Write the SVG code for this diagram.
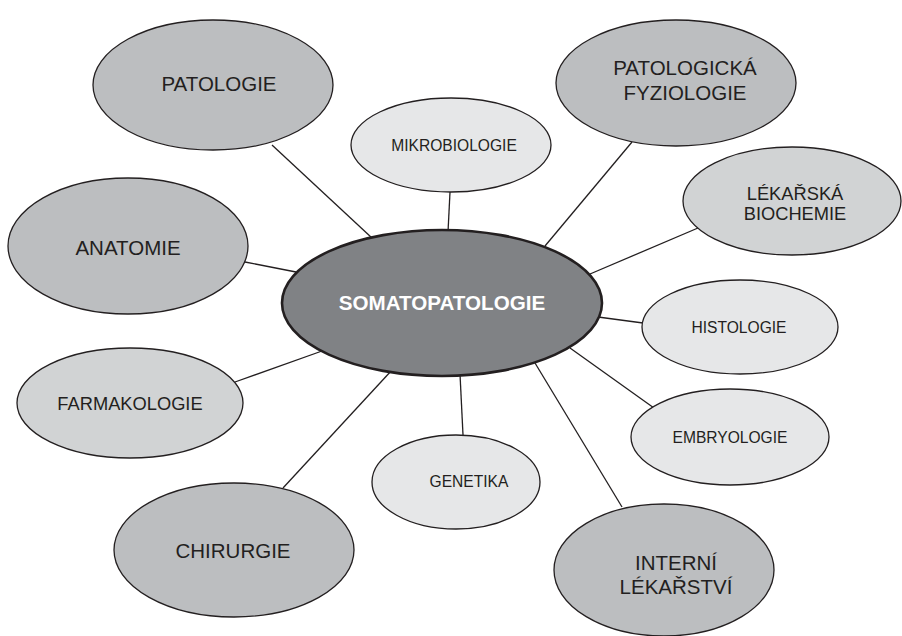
<svg xmlns="http://www.w3.org/2000/svg" width="902" height="636" viewBox="0 0 902 636">
<style>
.bg{fill:#ffffff}
.ln{stroke:#231f20;stroke-width:1.3;fill:none}
.dark{fill:#bcbec0;stroke:#231f20;stroke-width:1.3}
.mid{fill:#d1d3d4;stroke:#231f20;stroke-width:1.3}
.light{fill:#e6e7e8;stroke:#231f20;stroke-width:1.3}
.core{fill:#808285;stroke:#231f20;stroke-width:2.6}
text{font-family:"Liberation Sans",Arial,sans-serif;fill:#231f20;text-anchor:middle}
.big{font-size:20.5px}
.med{font-size:18.3px}
.sm{font-size:15.6px}
.ctr{font-size:20.6px;font-weight:bold;fill:#ffffff}
</style>
<rect class="bg" x="0" y="0" width="902" height="636"/>
<g id="connectors">
<line class="ln" x1="272" y1="145" x2="372" y2="238"/>
<line class="ln" x1="450" y1="192" x2="448" y2="232"/>
<line class="ln" x1="632" y1="142" x2="545" y2="246"/>
<line class="ln" x1="698" y1="228" x2="590" y2="274"/>
<line class="ln" x1="643" y1="323" x2="598" y2="317"/>
<line class="ln" x1="654" y1="408" x2="570" y2="348"/>
<line class="ln" x1="622" y1="507" x2="535" y2="363"/>
<line class="ln" x1="463" y1="435" x2="460" y2="374"/>
<line class="ln" x1="283" y1="488" x2="392" y2="370"/>
<line class="ln" x1="235" y1="382" x2="322" y2="351"/>
<line class="ln" x1="245" y1="262" x2="296" y2="272"/>
</g>
<g id="patologie">
<ellipse class="dark" cx="213" cy="85" rx="120" ry="65"/>
<text class="big" x="219" y="91">PATOLOGIE</text>
</g>
<g id="mikrobiologie">
<ellipse class="light" cx="451" cy="145" rx="100" ry="47"/>
<text class="sm" x="454" y="151">MIKROBIOLOGIE</text>
</g>
<g id="patologicka-fyziologie">
<ellipse class="dark" cx="676" cy="83" rx="120" ry="63"/>
<text class="big" x="685" y="75">PATOLOGICKÁ</text>
<text class="big" x="685" y="100">FYZIOLOGIE</text>
</g>
<g id="lekarska-biochemie">
<ellipse class="mid" cx="792" cy="201" rx="109" ry="54"/>
<text class="med" x="795" y="200">LÉKAŘSKÁ</text>
<text class="med" x="795" y="220">BIOCHEMIE</text>
</g>
<g id="anatomie">
<ellipse class="dark" cx="128" cy="246" rx="120" ry="68"/>
<text class="big" x="128" y="255">ANATOMIE</text>
</g>
<g id="histologie">
<ellipse class="light" cx="740" cy="327" rx="98" ry="47"/>
<text class="sm" x="739" y="333">HISTOLOGIE</text>
</g>
<g id="embryologie">
<ellipse class="light" cx="730" cy="437" rx="99" ry="48"/>
<text class="sm" x="730" y="443">EMBRYOLOGIE</text>
</g>
<g id="farmakologie">
<ellipse class="mid" cx="130" cy="403" rx="113" ry="55"/>
<text class="med" x="130" y="410">FARMAKOLOGIE</text>
</g>
<g id="genetika">
<ellipse class="light" cx="456" cy="482" rx="84" ry="47"/>
<text class="sm" x="469" y="487">GENETIKA</text>
</g>
<g id="chirurgie">
<ellipse class="dark" cx="234" cy="550" rx="120" ry="67"/>
<text class="big" x="233" y="558">CHIRURGIE</text>
</g>
<g id="interni-lekarstvi">
<ellipse class="dark" cx="664" cy="570" rx="110" ry="66"/>
<text class="big" x="676" y="570">INTERNÍ</text>
<text class="big" x="676" y="594">LÉKAŘSTVÍ</text>
</g>
<g id="somatopatologie">
<ellipse class="core" cx="442" cy="303" rx="160" ry="73"/>
<text class="ctr" x="442" y="310">SOMATOPATOLOGIE</text>
</g>
</svg>
